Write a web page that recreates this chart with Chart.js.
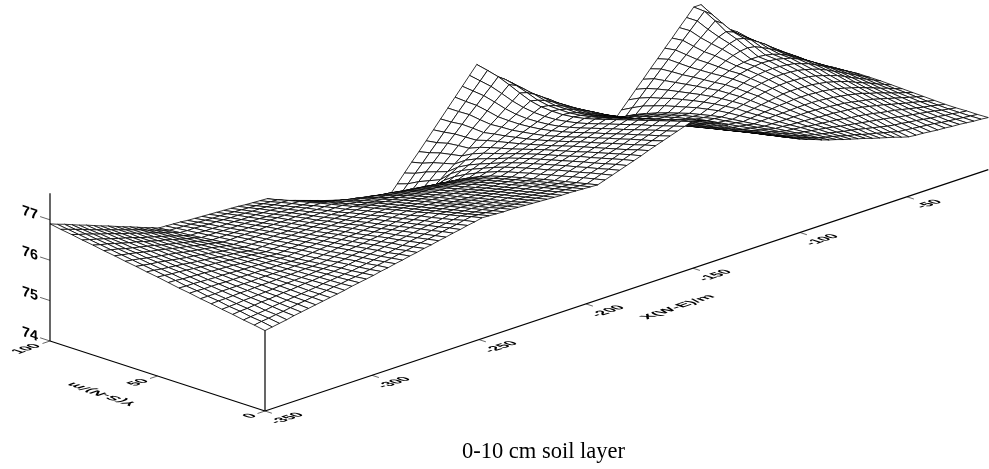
<!DOCTYPE html>
<html><head><meta charset="utf-8">
<style>html,body{margin:0;padding:0;background:#fff}canvas{display:block}</style>
<script src="https://cdn.jsdelivr.net/npm/chart.js@4"></script>
</head><body><canvas id="c" width="989" height="469"></canvas>
<script>
const xTicks=[-350,-300,-250,-200,-150,-100,-50];
const yTicks=[0,50,100];
const zTicks=[74,75,76,77];
const xRange=[-350,-12];
const yRange=[0,100];
const zRange=[74,77.66];
const caption="0-10 cm soil layer";
const xTitle="X(W-E)/m";
const yTitle="Y(S-N)/m";
// surface heights, hundredths of a unit above 74, one list per Y grid line (5 m apart)
const zY000=[199,202,205,208,212,215,218,221,224,227,230,233,237,240,243,246,250,253,257,260,264,267,271,274,278,281,285,288,292,295,299,298,297,296,296,295,294,293,292,291,290,289,289,288,287,286,285,291,297,303,309,315,321,328,334,340,346,352,358,364,361,354,344,334,323,312,302,292,283,275,266,257,249,240,231,224,218,211,205,200,194,189,184,179,173,168,163,158,152,147,145,144,142,140,139,137,136,134,132,131,129];
const zY005=[204,207,209,212,214,217,220,222,225,227,230,233,235,238,240,243,246,250,253,256,260,263,266,270,273,276,280,283,286,290,293,292,291,290,290,289,288,287,286,285,284,283,283,282,281,280,279,285,291,297,303,309,315,321,327,332,338,344,350,356,353,346,337,327,316,305,295,285,277,268,260,251,243,234,226,220,214,208,202,197,193,188,183,179,174,169,165,160,156,151,149,147,145,143,141,138,136,134,132,130,128];
const zY010=[208,210,212,214,217,219,221,223,225,227,229,232,234,236,238,240,243,246,249,252,255,258,261,265,268,271,274,277,280,283,286,285,284,284,283,282,281,280,280,279,278,277,276,276,275,274,273,279,285,290,296,302,308,313,319,325,331,337,342,348,345,338,329,319,309,298,288,278,270,262,254,246,237,229,221,215,210,204,199,195,191,187,183,179,176,172,168,164,160,156,153,151,148,146,143,140,138,135,133,130,128];
const zY015=[213,215,216,218,220,221,223,225,226,228,230,231,233,235,236,238,241,244,246,249,252,255,258,260,263,266,269,272,274,277,280,279,278,278,277,276,275,274,274,273,272,271,270,270,269,268,267,273,278,284,289,295,301,306,312,318,323,329,334,340,337,330,321,312,302,292,282,272,264,256,248,240,232,224,216,211,206,201,196,193,190,187,184,181,177,174,171,168,165,162,159,156,152,149,146,143,140,137,133,130,127];
const zY020=[217,218,219,221,222,223,224,225,227,228,229,230,231,233,234,235,238,240,243,245,248,251,253,256,258,261,264,266,269,271,274,273,272,272,271,270,269,268,268,267,266,265,264,264,263,262,261,266,272,277,283,288,294,299,305,310,316,321,327,332,329,322,314,305,295,285,276,266,258,250,242,235,227,219,211,206,202,197,193,191,189,186,184,182,180,178,175,172,170,167,164,160,157,154,150,146,142,138,135,131,127];
const zY025=[222,223,223,224,225,225,226,227,227,228,229,229,230,231,231,232,234,237,239,242,244,246,249,251,254,256,258,261,263,266,268,267,266,266,265,264,263,262,262,261,260,259,258,258,257,256,255,260,266,271,276,282,287,292,297,303,308,313,319,324,321,314,306,297,288,279,269,260,252,245,237,229,221,214,206,202,198,194,190,189,187,186,185,184,182,181,180,178,176,174,171,167,163,159,154,150,145,141,137,132,128];
const zY030=[226,226,226,227,227,227,227,227,228,228,228,228,228,229,229,229,231,233,235,238,240,242,244,246,248,250,252,255,257,259,261,260,259,259,258,257,256,255,255,254,253,252,251,251,250,249,248,253,258,264,269,274,279,285,290,295,300,306,311,316,313,306,298,290,281,272,263,254,246,239,231,224,216,209,201,197,194,190,187,187,186,186,186,186,186,185,184,182,180,178,175,171,168,164,159,154,149,144,139,134,129];
const zY035=[231,231,230,230,230,229,229,229,228,228,228,227,227,227,226,226,228,230,232,234,236,238,240,241,243,245,247,249,251,253,255,254,253,253,252,251,250,249,249,248,247,246,245,245,244,243,242,247,252,257,262,267,272,278,283,288,293,298,303,308,305,298,291,283,274,265,256,248,241,233,226,219,211,204,196,193,190,187,184,185,186,187,187,188,189,189,189,188,186,184,181,178,174,170,164,159,153,147,141,136,130];
const zY040=[235,234,234,233,232,231,231,230,229,228,228,227,226,225,225,224,226,227,229,231,232,234,236,237,239,241,242,244,246,247,249,248,247,246,246,245,244,243,242,241,240,239,239,238,237,236,235,240,245,250,255,260,265,270,275,280,285,290,295,300,297,291,284,276,268,260,251,243,236,228,221,213,206,199,191,189,186,184,181,183,185,187,189,191,192,194,194,194,192,191,188,185,180,175,170,163,157,150,144,137,131];
const zY045=[240,239,237,236,235,234,232,231,230,229,227,226,225,224,222,221,222,224,225,227,228,229,231,232,234,235,236,238,239,241,242,241,240,239,239,238,237,236,235,234,233,232,232,231,230,229,228,233,238,243,248,253,258,262,267,272,277,282,287,292,289,284,277,270,262,254,245,237,230,222,215,208,201,193,186,184,182,180,178,181,184,187,190,193,196,199,200,200,199,198,195,192,187,182,176,168,161,154,146,139,132];
const zY050=[245,243,241,240,238,236,234,232,231,229,227,225,223,222,220,218,219,220,222,223,224,225,226,228,229,230,231,232,234,235,236,235,234,233,232,231,230,229,228,227,226,225,224,223,222,221,220,225,230,235,240,245,250,255,260,265,270,275,280,285,283,278,272,265,257,249,241,232,225,217,210,203,196,188,181,180,178,177,175,179,184,188,192,197,201,204,206,207,206,205,203,199,194,188,182,174,165,157,149,141,133];
const zY055=[249,247,244,242,240,238,235,233,231,229,226,224,222,220,217,215,216,217,218,219,220,221,222,223,224,225,226,227,228,229,230,229,228,226,225,224,223,221,220,219,218,216,215,214,213,211,210,215,221,226,232,237,242,248,253,258,264,269,275,280,278,273,266,259,251,243,235,226,219,211,204,197,190,182,175,174,173,171,170,176,181,187,193,198,204,208,211,213,213,212,210,206,201,195,187,178,169,160,151,142,133];
const zY060=[254,251,248,246,243,240,237,234,232,229,226,223,220,218,215,212,213,213,214,215,216,216,217,218,219,219,220,221,221,222,223,221,220,218,217,215,214,212,211,209,207,206,204,203,201,200,198,204,210,216,222,228,234,241,247,253,259,265,271,277,275,270,263,256,248,240,231,222,214,207,199,191,184,176,168,167,166,165,164,171,178,185,192,199,206,211,215,217,218,217,215,212,206,200,191,182,172,162,153,143,133];
const zY065=[258,255,252,248,245,242,239,236,232,229,226,223,220,216,213,210,210,211,211,212,212,213,213,214,214,215,215,216,216,217,217,215,213,211,209,207,205,203,201,199,197,195,193,191,189,187,185,192,199,206,213,220,227,235,242,249,256,263,270,277,275,270,263,255,247,238,228,218,210,202,194,186,177,169,161,160,160,159,158,166,174,182,191,199,207,214,218,221,223,222,220,216,211,203,194,184,173,162,152,141,130];
const zY070=[263,259,256,252,248,244,241,237,233,229,226,222,218,215,211,207,207,208,208,208,208,209,209,209,209,210,210,210,210,211,211,208,206,203,201,198,196,193,191,188,185,183,180,178,175,173,170,178,187,195,204,212,220,229,237,245,254,262,271,279,276,270,263,254,245,235,225,214,205,197,188,180,171,163,154,153,152,151,150,159,169,178,187,196,206,213,219,222,224,224,222,218,212,204,194,183,171,160,148,137,125];
const zY075=[267,263,259,254,250,246,242,238,233,229,225,221,217,212,208,204,204,204,204,204,204,204,204,205,205,205,205,205,205,205,205,202,198,195,191,188,184,181,177,174,171,167,164,160,157,153,150,160,171,181,192,202,212,223,233,244,254,264,275,285,281,274,265,255,244,232,221,210,201,192,183,174,165,156,147,146,145,143,142,152,163,173,184,194,204,214,223,230,235,237,234,226,217,207,196,185,173,160,146,133,120];
const zY080=[272,267,263,258,253,248,244,239,234,229,225,220,215,210,206,201,201,201,200,200,200,200,200,200,199,199,199,199,199,198,198,193,188,183,179,174,169,164,159,154,149,144,139,135,130,125,120,134,147,161,174,188,201,215,228,242,255,269,282,296,291,281,269,257,243,230,217,204,195,185,176,167,157,148,139,137,136,134,133,145,157,168,180,192,203,215,227,237,245,250,246,236,225,213,199,186,172,158,144,131,118];
const zY085=[276,271,266,261,255,250,245,240,234,229,224,219,214,208,203,198,198,197,197,196,196,196,195,195,195,194,194,193,193,193,192,187,181,176,170,165,159,154,148,143,138,132,127,121,116,110,105,121,136,152,167,183,199,214,230,245,261,277,292,308,300,286,270,253,236,222,209,196,187,177,168,159,149,140,131,129,127,125,123,136,149,163,176,189,202,215,228,242,253,260,253,240,226,213,199,185,171,157,144,130,116];
const zY090=[281,275,270,264,258,253,247,241,236,230,224,219,213,207,202,196,195,195,194,193,193,192,191,191,190,189,189,188,187,187,186,180,174,168,162,156,150,144,138,132,126,120,114,108,102,96,90,108,125,143,160,178,196,213,231,249,266,284,301,319,306,291,272,252,232,216,201,187,178,169,160,150,141,132,123,120,117,115,112,127,142,157,172,188,203,218,233,248,263,278,266,243,224,210,196,183,170,156,142,128,115];
const zY095=[285,279,273,267,260,254,248,242,236,230,224,218,211,205,199,193,192,191,190,189,188,187,187,186,185,184,183,182,181,180,179,171,163,155,147,139,131,123,115,108,102,96,90,85,80,76,72,92,111,131,150,170,189,209,228,248,267,287,306,326,306,285,262,240,220,204,190,176,166,157,148,139,131,122,114,109,105,100,96,114,132,150,168,186,204,221,239,257,275,293,280,252,230,216,204,192,178,162,146,130,114];
const zY100=[290,283,277,270,263,257,250,243,237,230,223,217,210,203,197,190,189,188,187,185,184,183,182,181,180,179,178,176,175,174,173,164,155,146,137,128,119,110,101,96,91,86,81,76,71,65,60,81,102,123,144,164,185,206,227,248,269,290,311,332,310,290,270,250,230,210,185,160,150,140,130,125,118,111,105,100,92,86,80,100,119,139,158,178,197,217,236,256,275,295,295,262,236,222,210,198,178,160,140,125,115];
const zRows=[zY000,zY005,zY010,zY015,zY020,zY025,zY030,zY035,zY040,zY045,zY050,zY055,zY060,zY065,zY070,zY075,zY080,zY085,zY090,zY095,zY100];

// oblique view of the block, in page units
function px(x,y){return 265+(x+350)*2.14-y*2.15;}
function py(x,y,z){return 411-(x+350)*0.714-y*0.70-(z-74)*40.4;}
function pt(x,y,z){return {x:px(x,y),y:py(x,y,z)};}
function colX(i){return xRange[0]+i*(xRange[1]-xRange[0])/100;}
function rowY(j){return j*5;}
function zAt(i,j){return 74+zRows[j][i]/100;}

const datasets=[];
function lineDs(points,width,color){
  datasets.push({data:points,showLine:true,fill:false,borderColor:color,borderWidth:width,pointRadius:0,tension:0});
}
// axes and ticks
lineDs([pt(xRange[0],0,74),pt(xRange[1],0,74)],1.2,'#000');
lineDs([pt(xRange[0],0,74),pt(xRange[0],100,74)],1.2,'#000');
lineDs([pt(xRange[0],100,74),pt(xRange[0],100,zRange[1])],1.2,'#000');
lineDs([pt(xRange[0],0,74),pt(xRange[0],0,zAt(0,0))],1.2,'#000');
xTicks.forEach(v=>lineDs([pt(v,0,74),pt(v,-3.2,74)],0.7,'#222'));
yTicks.forEach(v=>lineDs([pt(xRange[0],v,74),pt(xRange[0]-3.5,v,74)],0.7,'#222'));
zTicks.forEach(v=>lineDs([pt(xRange[0],100,v),pt(xRange[0],104.6,v)],0.7,'#222'));
// surface cells, nearest first so the nearest are painted last
for(let i=0;i<100;i++){
  for(let j=0;j<20;j++){
    datasets.push({
      data:[pt(colX(i),rowY(j),zAt(i,j)),pt(colX(i+1),rowY(j),zAt(i+1,j)),pt(colX(i+1),rowY(j+1),zAt(i+1,j+1)),pt(colX(i),rowY(j+1),zAt(i,j+1)),pt(colX(i),rowY(j),zAt(i,j))],
      showLine:true,fill:'shape',backgroundColor:'#fff',borderColor:'#000',borderWidth:0.8,pointRadius:0,tension:0,borderDash:[1000,0]
    });
  }
}

const labelsPlugin={
  id:'planeLabels',
  afterDatasetsDraw(chart){
    const c=chart.ctx,sx=chart.scales.x,sy=chart.scales.y;
    function put(text,font,P,a,d){
      c.save();
      c.transform(a[0],a[1],d[0],d[1],sx.getPixelForValue(P.x),sy.getPixelForValue(P.y));
      c.font=font;c.fillStyle='#000';c.textAlign='center';c.textBaseline='middle';
      c.fillText(text,0,0);
      c.restore();
    }
    const tickFont='bold 14.5px "Liberation Sans"';
    xTicks.forEach(v=>put(String(v),tickFont,pt(v,-10.3,74),[0.95,-0.316],[0.95,0.31]));
    yTicks.forEach(v=>{const s=String(v);put(s,tickFont,pt(xRange[0]-(5+2*s.length),v,74),[0.95,-0.316],[0.95,0.31]);});
    zTicks.forEach(v=>put(String(v),'bold 13px "Liberation Sans"',pt(xRange[0],109.3,v),[1.1,0.36],[0,1.1]));
    put(xTitle,'bold 13px "Liberation Sans"',pt(-181,-23.8,74),[1.2,-0.4],[0.95,0.31]);
    put(yTitle,'bold 13px "Liberation Sans"',pt(-375.5,50.3,74),[-1.2,-0.39],[0.95,-0.316]);
    c.save();
    c.font='22.5px "Liberation Serif"';c.fillStyle='#000';c.textAlign='center';c.textBaseline='middle';
    c.fillText(caption,sx.getPixelForValue(543.5),sy.getPixelForValue(452.5));
    c.restore();
  }
};
new Chart(document.getElementById('c'),{
  type:'scatter',
  data:{datasets},
  plugins:[labelsPlugin],
  options:{
    responsive:false,animation:false,events:[],devicePixelRatio:1,
    layout:{padding:0},
    plugins:{legend:{display:false},tooltip:{enabled:false},title:{display:false}},
    scales:{
      x:{type:'linear',min:0,max:989,display:false},
      y:{type:'linear',min:0,max:469,reverse:true,display:false}
    }
  }
});
</script></body></html>
